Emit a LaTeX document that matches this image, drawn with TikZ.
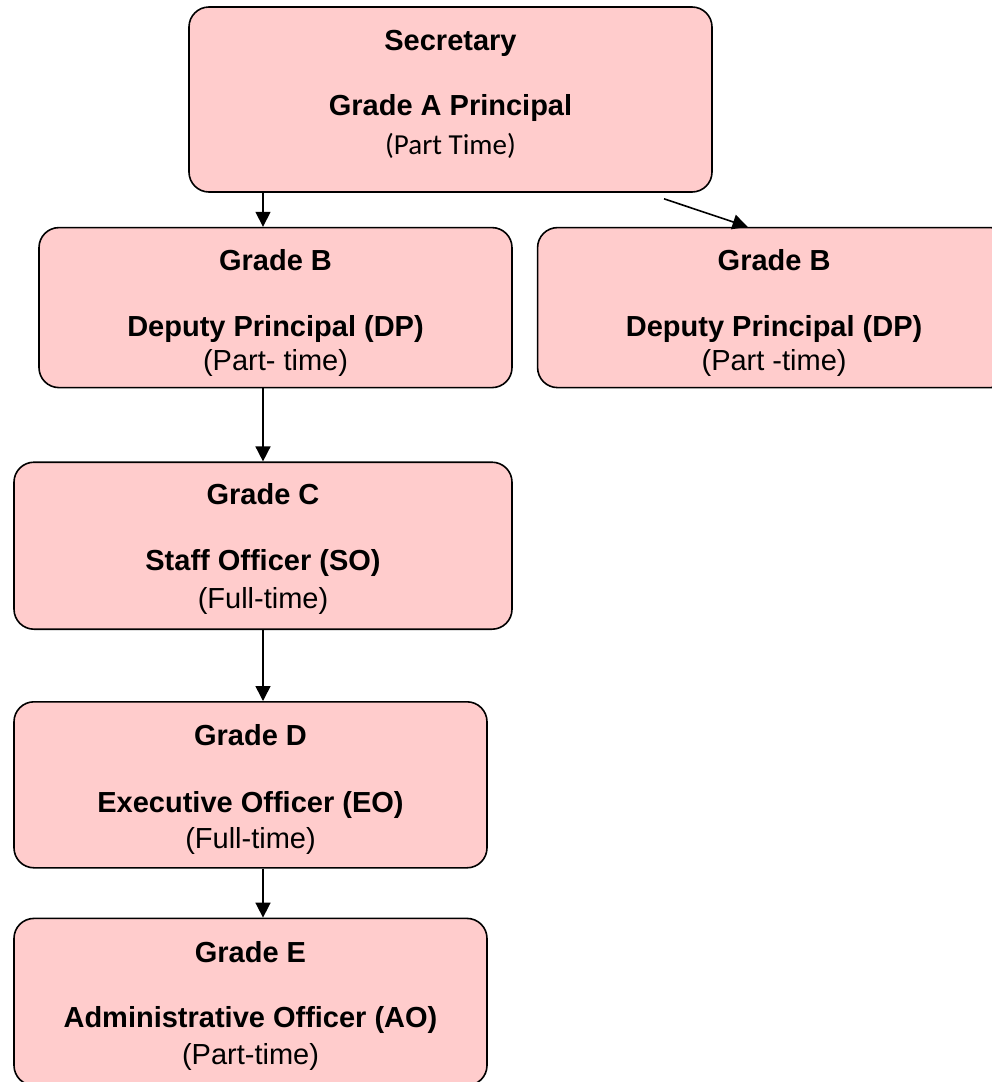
\documentclass[tikz,border=0pt]{standalone}
\usepackage{fontspec}
\setmainfont{Liberation Sans}
\newfontfamily\calibrifont{Carlito}
\usetikzlibrary{arrows.meta, positioning}
\definecolor{gradepink}{RGB}{255,204,204}
\tikzset{
    grade/.style={rectangle, rounded corners=20pt, minimum width=473pt, minimum height=166pt, align=center, draw=black, line width=1.6pt, fill=gradepink, font=\fontsize{29}{35}\selectfont},
    arrow/.style={line width=1.6pt, -{Triangle[width=15pt,length=15pt]}}
}
\begin{document}
\begin{tikzpicture}[node distance=34pt and 24pt]
    \useasboundingbox (0,0) rectangle (992pt,-1082pt);
    \node (sec) [grade, minimum width=523pt, minimum height=185pt] at (450.5pt,-99.5pt) {\textbf{Secretary}\\[30pt]\textbf{Grade A Principal}\\[4pt]{\calibrifont (Part Time)}\rule[-14pt]{0pt}{0pt}};
    
    \node (dp1) [grade, minimum height=160pt, below=of sec, xshift=-175pt] {\rule{0pt}{31pt}\textbf{Grade B}\\[31pt]\textbf{Deputy Principal (DP)}\\[-1pt](Part- time)};
    \node (dp2) [grade, minimum height=160pt, right=of dp1] {\rule{0pt}{31pt}\textbf{Grade B}\\[31pt]\textbf{Deputy Principal (DP)}\\[-1pt](Part -time)};
    
    \node (so) [grade, minimum width=498pt, minimum height=167pt, below=73pt of dp1, xshift=-12.5pt] {\rule{0pt}{27pt}\textbf{Grade C}\\[31pt]\textbf{Staff Officer (SO)}\\[3pt](Full-time)};
    \node (eo) [grade, below=71pt of so, xshift=-12.5pt] {\rule{0pt}{31pt}\textbf{Grade D}\\[32pt]\textbf{Executive Officer (EO)}\\[1pt](Full-time)};
    \node (ao) [grade, minimum height=167pt, below=49pt of eo] {\rule{0pt}{29pt}\textbf{Grade E}\\[30pt]\textbf{Administrative Officer (AO)}\\[2pt](Part-time)};
    
    \draw [arrow] (sec.south -| so.north) -- (dp1.north -| so.north);
    \draw [arrow] ([xshift=213.5pt, yshift=-6pt]sec.south) -- ([xshift=-26.5pt]dp2.north);
    \draw [arrow] (dp1.south -| so.north) -- (so.north);
    \draw [arrow] (so.south) -- (eo.north -| so.south);
    \draw [arrow] (eo.south -| so.south) -- (ao.north -| so.south);
\end{tikzpicture}
\end{document}
